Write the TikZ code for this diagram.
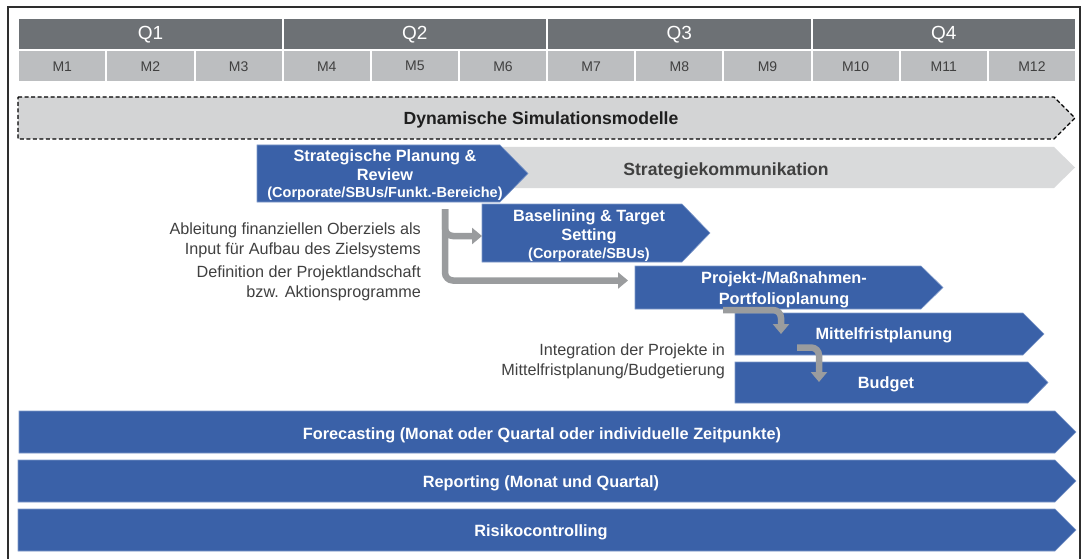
\documentclass[tikz,border=0pt]{standalone}
\usepackage{fontspec}
\setmainfont{Liberation Sans}
\usetikzlibrary{arrows.meta}

\definecolor{qgray}{HTML}{6D7175}
\definecolor{mgray}{HTML}{BCBEC0}
\definecolor{simgray}{HTML}{D3D4D5}
\definecolor{komgray}{HTML}{D9DADB}
\definecolor{barblue}{HTML}{3A61A8}
\definecolor{barline}{HTML}{7D98C9}
\definecolor{txtgray}{HTML}{404040}
\definecolor{conngray}{HTML}{9A9C9E}
\definecolor{framegray}{HTML}{2E2E2E}

% smaller bold font for the organisational scope lines
\newcommand\scopefont{\bfseries\fontsize{14.5}{17}\selectfont}

% chevron bar: name, style, left x, top y, body end x, tip x, bottom y
\newcommand\chevronbar[7]{%
  \path[#2] (#3,#4) -- (#5,#4) -- (#6,{(#4+#7)/2}) -- (#5,#7) -- (#3,#7) -- cycle;
  \coordinate (#1-w) at (#3,{(#4+#7)/2});
}

\begin{document}
\begin{tikzpicture}[x=1pt,y=-1pt,
  qcell/.style={fill=qgray,text=white,inner sep=0pt,minimum width=262.45pt,
    minimum height=30pt,anchor=north west,font=\fontsize{19}{22}\selectfont},
  mcell/.style={fill=mgray,text=txtgray,inner sep=0pt,minimum width=86.15pt,
    minimum height=30pt,anchor=north west,font=\fontsize{14}{16}\selectfont},
  bluebar/.style={fill=barblue,draw=barline,line width=0.6pt},
  simbar/.style={fill=simgray,draw=black,line width=1.1pt,dash pattern=on 4pt off 2.5pt},
  kombar/.style={fill=komgray},
  bluetext/.style={text=white,font=\bfseries\fontsize{16.3}{19.5}\selectfont,
    align=center,inner sep=0pt},
  graytext/.style={text=txtgray,font=\fontsize{16.2}{20}\selectfont,align=right,
    inner sep=0pt,anchor=east},
  conn/.style={draw=conngray,line width=6.5pt,rounded corners=8pt,
    -{Triangle[width=16pt,length=10pt]}},
]
\useasboundingbox (0,0) rectangle (1087,559);

% outer frame (open at the bottom)
\draw[framegray,line width=1.3pt] (8,562) -- (8,7) -- (1080,7) -- (1080,562);

% quarters and months
\foreach \i in {1,...,4}
  \node[qcell] (q\i) at ({19+(\i-1)*264.45},19) {Q\i};
\foreach \j in {1,...,12}
  \node[mcell] (m\j) at ({19+(\j-1)*88.15},51) {M\j};

% background bars
\chevronbar{sim}{simbar}{18}{97}{1054}{1075}{139}
\node[text=black!88,font=\bfseries\fontsize{17.6}{20}\selectfont,inner sep=0pt]
  (simtxt) at (541,120) {Dynamische Simulationsmodelle};

\chevronbar{kom}{kombar}{380}{147}{1054}{1075}{188}
\node[text=txtgray,font=\bfseries\fontsize{17.6}{20}\selectfont,inner sep=0pt]
  (komtxt) at (726,170.5) {Strategiekommunikation};

% planning steps
\chevronbar{sp}{bluebar}{257}{145}{500}{528}{202}
\node[bluetext] (sptxt) at (385,175)
  {Strategische Planung \&\\Review\\[-3pt]{\scopefont(Corporate/SBUs/Funkt.-Bereiche)}};

\chevronbar{bl}{bluebar}{482}{204}{682}{710}{262}
\node[bluetext] (bltxt) at (589,235.5)
  {Baselining \& Target\\Setting\\[-2pt]{\scopefont(Corporate/SBUs)}};

\chevronbar{pp}{bluebar}{635}{266}{921}{943}{309}
\node[bluetext,font=\bfseries\fontsize{16.3}{21}\selectfont] (pptxt) at (784,290)
  {Projekt-/Maßnahmen-\\Portfolioplanung};

\chevronbar{mf}{bluebar}{735}{313}{1023}{1044}{355}
\node[bluetext] (mftxt) at (884,335.5) {Mittelfristplanung};

\chevronbar{bu}{bluebar}{735}{362}{1028}{1048}{403}
\node[bluetext] (butxt) at (886,384.5) {Budget};

% continuous processes
\chevronbar{fc}{bluebar}{19}{411}{1055}{1076}{453}
\node[bluetext] (fctxt) at (542,435.5)
  {Forecasting (Monat oder Quartal oder individuelle Zeitpunkte)};

\chevronbar{rp}{bluebar}{18}{460}{1055}{1076}{502}
\node[bluetext] (rptxt) at (541,483) {Reporting (Monat und Quartal)};

\chevronbar{rk}{bluebar}{18}{509}{1055}{1076}{551}
\node[bluetext] (rktxt) at (541,532) {Risikocontrolling};

% annotations
\node[graytext] (note1) at (421,240)
  {Ableitung finanziellen Oberziels als\\Input für Aufbau des Zielsystems};
\node[graytext] (note2) at (421,283)
  {Definition der Projektlandschaft\\bzw. Aktionsprogramme};
\node[graytext] (note3) at (725,361)
  {Integration der Projekte in\\Mittelfristplanung/Budgetierung};

% connectors
\coordinate (c1) at (445,209);
\draw[conn] (c1) |- ([yshift=-3pt]bl-w);
\draw[conn,shorten >=7pt] (c1) |- ([yshift=7pt]pp-w);

\coordinate (c2) at (723,310);
\coordinate (c2t) at (781,334);
\draw[conn] (c2) -| (c2t);

\coordinate (c3) at (797,347.5);
\coordinate (c3t) at (819,382);
\draw[conn] (c3) -| (c3t);
\end{tikzpicture}
\end{document}
